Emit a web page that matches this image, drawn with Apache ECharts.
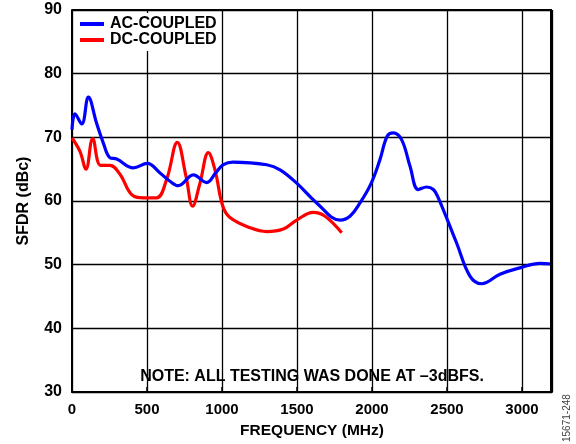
<!DOCTYPE html>
<html><head><meta charset="utf-8">
<script src="https://cdn.jsdelivr.net/npm/echarts@6/dist/echarts.min.js"></script>
<style>html,body{margin:0;padding:0;background:#fff}#c{width:576px;height:444px}</style>
</head><body><div id="c"></div>
<script>
const acFreq = [0,20,65,109,164,209,253,298,409,502,587,653,709,809,898,960,1009,1073,1298,1387,1498,1631,1787,1853,1920,1991,2053,2102,2142,2198,2253,2309,2364,2409,2442,2564,2653,2731,2853,2987,3120,3200];
const acVal  = [71.2,73.7,72.1,76.3,72.2,69.1,66.8,66.6,65.2,65.9,64.4,63.1,62.4,64.1,62.9,64.5,65.7,66.1,65.7,64.9,62.8,59.7,57.0,57.6,59.7,62.6,66.5,70.2,70.7,69.6,65.5,61.8,62.2,61.8,60.5,53.4,48.2,47.0,48.5,49.5,50.2,50.1];
const dcFreq = [0,53,93,138,191,253,320,398,476,564,631,702,760,804,853,909,953,1005,1053,1187,1298,1409,1498,1609,1687,1798];
const dcVal  = [69.9,67.8,65.0,69.8,65.6,65.6,64.2,61.0,60.5,60.5,63.4,69.2,63.9,59.2,62.8,67.6,64.9,59.2,57.4,55.8,55.2,55.6,57.0,58.2,57.6,55.0];
const xTicks = [0,500,1000,1500,2000,2500,3000];
const yTicks = [30,40,50,60,70,80,90];
const seriesNames = ['AC-COUPLED','DC-COUPLED'];
const noteText = 'NOTE: ALL TESTING WAS DONE AT \u20133dBFS.';
const figId = '15671-248';

const FONT = 'Liberation Sans, Arial, sans-serif';
const chart = echarts.init(document.getElementById('c'), null, {renderer:'canvas'});
const zip = (a,b)=>a.map((v,i)=>[v,b[i]]);
chart.setOption({
  animation:false,
  backgroundColor:'#fff',
  grid:{left:72,right:24,top:10,bottom:51},
  legend:{
    orient:'vertical', left:76, top:13, itemGap:0, itemWidth:24, itemHeight:4,
    backgroundColor:'#fff', padding:[3,1,3,4],
    textStyle:{fontFamily:FONT,fontWeight:'bold',fontSize:16,lineHeight:16,color:'#000',padding:[0,0,0,1]},
    data:[{name:seriesNames[0],icon:'rect'},{name:seriesNames[1],icon:'rect'}]
  },
  xAxis:{
    type:'value', min:0, max:3200, interval:500,
    axisLine:{show:true,onZero:false,lineStyle:{color:'#000',width:2}},
    axisTick:{show:true,inside:true,length:5,lineStyle:{color:'#000',width:1.5}},
    axisLabel:{fontFamily:FONT,fontWeight:'bold',fontSize:15,color:'#000',margin:10,
      formatter:v=>xTicks.includes(v)?String(v):''},
    splitLine:{show:true,lineStyle:{color:'#000',width:1.3}},
    name:'FREQUENCY (MHz)', nameLocation:'middle', nameGap:31,
    nameTextStyle:{fontFamily:FONT,fontWeight:'bold',fontSize:15.5,color:'#000'}
  },
  yAxis:{
    type:'value', min:30, max:90, interval:10,
    axisLine:{show:true,lineStyle:{color:'#000',width:2}},
    axisTick:{show:false},
    axisLabel:{fontFamily:FONT,fontWeight:'bold',fontSize:16,color:'#000',margin:10,
      formatter:v=>yTicks.includes(v)?String(v):''},
    splitLine:{show:true,lineStyle:{color:'#000',width:1.3}},
    name:'SFDR (dBc)', nameLocation:'middle', nameGap:40,
    nameTextStyle:{fontFamily:FONT,fontWeight:'bold',fontSize:16,color:'#000'}
  },
  graphic:[
    {type:'line',shape:{x1:551,y1:10,x2:551,y2:393},style:{stroke:'#000',lineWidth:2},z:10},
    {type:'line',shape:{x1:72,y1:10,x2:552,y2:10},style:{stroke:'#000',lineWidth:2},z:10},
    {type:'text',x:312,y:377,style:{text:noteText,font:'bold 16px '+FONT,fill:'#000',textAlign:'center',textVerticalAlign:'middle'},z:10},
    {type:'text',x:567,y:442,rotation:Math.PI/2,style:{text:figId,font:'10px '+FONT,fill:'#444',textAlign:'left',textVerticalAlign:'middle'}}
  ],
  series:[
    {name:seriesNames[0],type:'line',data:zip(acFreq,acVal),smooth:0.4,showSymbol:false,
      lineStyle:{color:'#0000ff',width:3.2},itemStyle:{color:'#0000ff'},z:3},
    {name:seriesNames[1],type:'line',data:zip(dcFreq,dcVal),smooth:0.4,showSymbol:false,
      lineStyle:{color:'#ff0000',width:3.2},itemStyle:{color:'#ff0000'},z:2}
  ]
});
</script></body></html>
